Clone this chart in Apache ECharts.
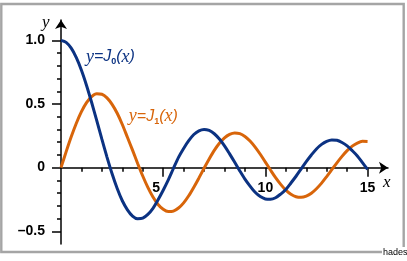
<!DOCTYPE html>
<html><head><meta charset="utf-8">
<script src="https://cdn.jsdelivr.net/npm/echarts@6/dist/echarts.min.js"></script>
<style>html,body{margin:0;padding:0;background:#fff}#c{width:407px;height:261px}</style>
</head><body><div id="c"></div>
<script>
const xValues = [0,0.25,0.5,0.75,1,1.25,1.5,1.75,2,2.25,2.5,2.75,3,3.25,3.5,3.75,4,4.25,4.5,4.75,5,5.25,5.5,5.75,6,6.25,6.5,6.75,7,7.25,7.5,7.75,8,8.25,8.5,8.75,9,9.25,9.5,9.75,10,10.25,10.5,10.75,11,11.25,11.5,11.75,12,12.25,12.5,12.75,13,13.25,13.5,13.75,14,14.25,14.5,14.75,15];
const j0Values = [1.0,0.9844,0.9385,0.8642,0.7652,0.6459,0.5118,0.3690,0.2239,0.0827,-0.0484,-0.1641,-0.2601,-0.3313,-0.3801,-0.4018,-0.3971,-0.3679,-0.3205,-0.2522,-0.1776,-0.0961,-0.0068,0.0806,0.1506,0.2118,0.2601,0.2895,0.3001,0.2919,0.2663,0.2247,0.1717,0.1083,0.0419,-0.0262,-0.0903,-0.1450,-0.1939,-0.2273,-0.2459,-0.2489,-0.2366,-0.2075,-0.1712,-0.1207,-0.0677,-0.0100,0.0477,0.0996,0.1469,0.1824,0.2069,0.2178,0.2150,0.1973,0.1711,0.1337,0.0921,0.0393,-0.0142];
const j1Values = [0,0.1240,0.2423,0.3492,0.4401,0.5106,0.5579,0.5802,0.5767,0.5483,0.4971,0.4269,0.3391,0.2384,0.1374,0.0329,-0.0660,-0.1555,-0.2311,-0.2890,-0.3276,-0.3454,-0.3414,-0.3173,-0.2767,-0.2212,-0.1538,-0.0808,-0.0047,0.0681,0.1353,0.1912,0.2346,0.2620,0.2731,0.2672,0.2453,0.2096,0.1613,0.1051,0.0435,-0.0187,-0.0789,-0.1319,-0.1768,-0.2090,-0.2284,-0.2331,-0.2235,-0.2007,-0.1655,-0.1215,-0.0703,-0.0164,0.0381,0.0884,0.1334,0.1688,0.1934,0.2064,0.2051];
const yMajorTicks = [-0.5, 0, 0.5, 1];
const yMinorTicks = [-0.4,-0.3,-0.2,-0.1,0.1,0.2,0.3,0.4,0.6,0.7,0.8,0.9];
const xMajorTicks = [5, 10, 15];
const xMinorTicks = [1,2,3,4,6,7,8,9,11,12,13,14];
const yTickText = {'-0.5':'\u20130.5','0':'0','0.5':'0.5','1':'1.0'};
const xTickText = {'5':'{s|5}','10':'10','15':'15'};
const labelJ0Pos = [1.22, 0.87];
const labelJ1Pos = [3.32, 0.40];

const BLUE = '#0b3282', ORANGE = '#d8650a';
const chart = echarts.init(document.getElementById('c'), null, {renderer: 'canvas'});
const pts = ys => xValues.map((x, i) => [x, ys[i]]);
const X_MIN = 0, X_MAX = 16.0, Y_MIN = -0.6, Y_MAX = 1.16;
const GRID = {left: 61, right: 19, top: 20, bottom: 17};
const labelFont = {color: '#000', fontWeight: 'bold', fontSize: 14, fontFamily: 'Liberation Sans, Arial, sans-serif'};
const axisStroke = {color: '#000', width: 1.5};

function buildX(offset) {
  return [
    {type: 'value', min: X_MIN, max: X_MAX, position: 'bottom', offset: offset,
     axisLine: {show: true, onZero: false, symbol: ['none', 'arrow'], symbolSize: [9, 9], lineStyle: axisStroke},
     axisTick: {show: true, customValues: xMajorTicks, length: 9, lineStyle: axisStroke},
     axisLabel: {show: true, customValues: xMajorTicks, margin: 14, ...labelFont,
       formatter: v => xTickText[String(v)] || '',
       rich: {s: {...labelFont, padding: [0, 14, 0, 0]}}},
     splitLine: {show: false}},
    {type: 'value', min: X_MIN, max: X_MAX, position: 'bottom', offset: offset,
     axisLine: {show: false, onZero: false},
     axisTick: {show: true, customValues: xMinorTicks, length: 4, lineStyle: axisStroke},
     axisLabel: {show: false}, splitLine: {show: false}}
  ];
}

chart.setOption({
  animation: false,
  backgroundColor: '#fff',
  grid: {...GRID, containLabel: false, outerBoundsMode: 'none'},
  xAxis: buildX(0),
  yAxis: [
    {type: 'value', min: Y_MIN, max: Y_MAX, position: 'left',
     axisLine: {show: true, onZero: false, symbol: ['none', 'arrow'], symbolSize: [9, 9], lineStyle: axisStroke},
     axisTick: {show: true, customValues: yMajorTicks, length: 9, lineStyle: axisStroke},
     axisLabel: {show: true, customValues: yMajorTicks, margin: 16, ...labelFont,
       formatter: v => yTickText[String(v)] || ''},
     splitLine: {show: false}},
    {type: 'value', min: Y_MIN, max: Y_MAX, position: 'left',
     axisLine: {show: false, onZero: false},
     axisTick: {show: true, customValues: yMinorTicks, length: 4, lineStyle: axisStroke},
     axisLabel: {show: false}, splitLine: {show: false}}
  ],
  series: [
    {type: 'line', name: 'J1', data: pts(j1Values), xAxisIndex: 0, yAxisIndex: 0, showSymbol: false, smooth: 0.3,
     lineStyle: {color: ORANGE, width: 3}, itemStyle: {color: ORANGE}},
    {type: 'line', name: 'J0', data: pts(j0Values), xAxisIndex: 0, yAxisIndex: 0, showSymbol: false, smooth: 0.3,
     lineStyle: {color: BLUE, width: 3}, itemStyle: {color: BLUE}}
  ]
});

// move the x axis up onto y = 0
const zeroPx = chart.convertToPixel({xAxisIndex: 0, yAxisIndex: 0}, [0, 0]);
const bottomPx = chart.getHeight() - GRID.bottom;
chart.setOption({xAxis: buildX(-(bottomPx - zeroPx[1]))});

function curveLabel(pos, sub, color) {
  const p = chart.convertToPixel({xAxisIndex: 0, yAxisIndex: 0}, pos);
  const sans = 'Liberation Sans, Arial, sans-serif', serif = 'Liberation Serif, Times New Roman, serif';
  return {type: 'text', x: p[0], y: p[1], z: 100,
    style: {text: '{i|y}{t|=}{j|J}{s|' + sub + '}{t|(}{i|x}{t|)}', verticalAlign: 'middle', align: 'left',
      rich: {
        i: {fontFamily: serif, fontStyle: 'italic', fontSize: 18, fill: color},
        t: {fontFamily: sans, fontStyle: 'italic', fontSize: 16, fill: color},
        j: {fontFamily: sans, fontStyle: 'italic', fontSize: 16, fill: color},
        s: {fontFamily: sans, fontSize: 9, fontWeight: 'bold', fill: color, verticalAlign: 'bottom', padding: [6, 0, 0, 0]}
      }}};
}
const yEnd = chart.convertToPixel({xAxisIndex: 0, yAxisIndex: 0}, [X_MIN, Y_MAX]);
const xEnd = chart.convertToPixel({xAxisIndex: 0, yAxisIndex: 0}, [X_MAX, 0]);
chart.setOption({graphic: [
  {type: 'rect', z: 50, shape: {x: 1.3, y: 4, width: 402.4, height: 248}, style: {fill: 'none', stroke: '#a5a5a5', lineWidth: 2.4}},
  {type: 'text', z: 60, x: 382, y: 247, style: {text: 'hades', fontFamily: 'Liberation Sans, Arial, sans-serif', fontSize: 9, fill: '#000', backgroundColor: '#fff', padding: [1, 3, 4, 1]}},
  {type: 'text', z: 60, x: yEnd[0] - 19, y: yEnd[1] - 6, style: {text: 'y', fontFamily: 'Liberation Serif, Times New Roman, serif', fontStyle: 'italic', fontSize: 17, fill: '#000'}},
  {type: 'text', z: 60, x: xEnd[0] - 5, y: xEnd[1] + 6, style: {text: 'x', fontFamily: 'Liberation Serif, Times New Roman, serif', fontStyle: 'italic', fontSize: 17, fill: '#000'}},
  curveLabel(labelJ0Pos, '0', BLUE),
  curveLabel(labelJ1Pos, '1', ORANGE)
]});
</script>
</body></html>
